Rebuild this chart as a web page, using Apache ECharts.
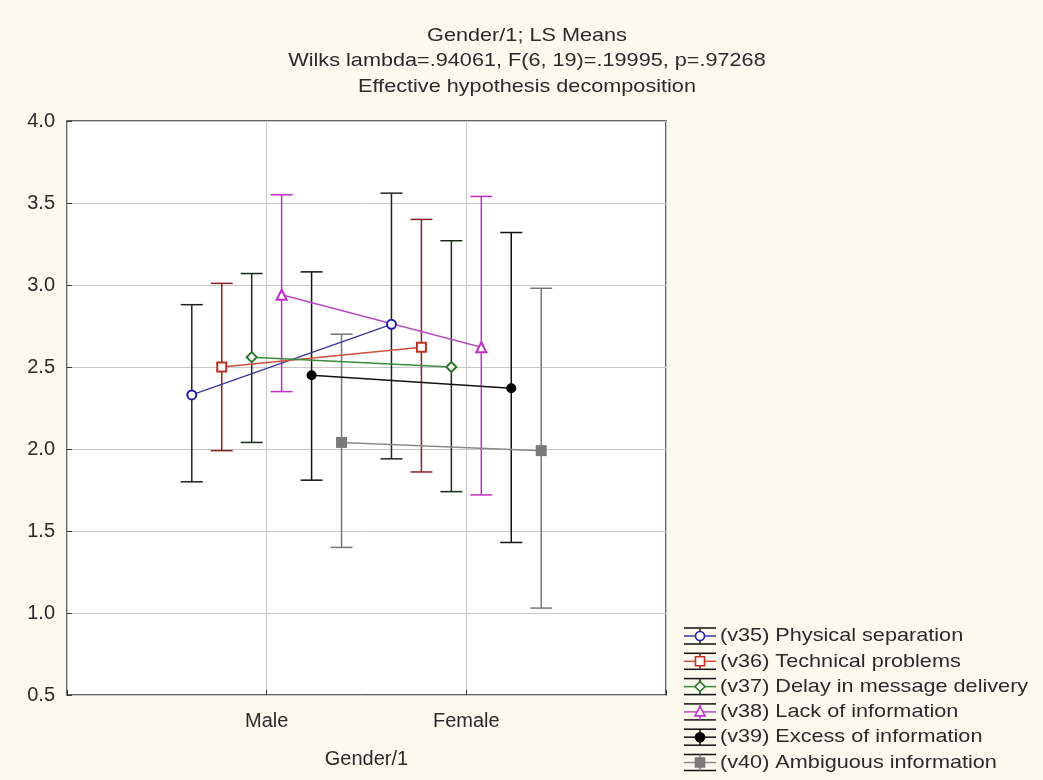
<!DOCTYPE html>
<html>
<head>
<meta charset="utf-8">
<script src="https://cdn.jsdelivr.net/npm/echarts@6/dist/echarts.min.js"></script>
<style>
  html, body { margin: 0; padding: 0; background: #fcf9ef; }
  #chart { width: 1043px; height: 780px; }
</style>
</head>
<body>
<div id="chart"></div>
<script>
// LS means with confidence intervals, by gender
const groups = ['Male', 'Female'];
const titleLines = [
  'Gender/1; LS Means',
  'Wilks lambda=.94061, F(6, 19)=.19995, p=.97268',
  'Effective hypothesis decomposition'
];
const seriesNames = [
  '(v35) Physical separation',
  '(v36) Technical problems',
  '(v37) Delay in message delivery',
  '(v38) Lack of information',
  '(v39) Excess of information',
  '(v40) Ambiguous information'
];
const means = [
  [2.33, 2.76],
  [2.50, 2.62],
  [2.56, 2.50],
  [2.94, 2.62],
  [2.45, 2.37],
  [2.04, 1.99]
];
const lower = [
  [1.80, 1.94],
  [1.99, 1.86],
  [2.04, 1.74],
  [2.35, 1.72],
  [1.81, 1.43],
  [1.40, 1.03]
];
const upper = [
  [2.88, 3.56],
  [3.01, 3.40],
  [3.07, 3.27],
  [3.55, 3.54],
  [3.08, 3.32],
  [2.70, 2.98]
];

// styling per variable
const lineColors = ['#3a3a9a', '#d0503c', '#3c8a3c', '#b84cc0', '#111111', '#8a8a8a'];
const markColors = ['#1e1ea8', '#c03020', '#2a7a2a', '#c030c8', '#000000', '#7a7a7a'];
const barColors  = ['#222222', '#8a2020', '#1c2a1c', '#c030c8', '#111111', '#777777'];
const symbols = ['emptyCircle', 'emptyRect', 'emptyDiamond', 'emptyTriangle', 'circle', 'rect'];
const symbolSizes = [9, 9, 10, 10, 10, 11];

const FONT = '"Liberation Sans", Arial, sans-serif';
const TXT = '#2a2a2a';
const WIDE = 1.14;   // horizontal stretch of the graphic texts
const step = 0.15;
const xPos = (gi, si) => gi + 1 + (si - 2.5) * step;

const series = [];
seriesNames.forEach((name, si) => {
  series.push({
    type: 'custom',
    name: name + ' ci',
    silent: true,
    z: 2,
    data: groups.map((g, gi) => [xPos(gi, si), lower[si][gi], upper[si][gi]]),
    renderItem: function (params, api) {
      const x = api.value(0);
      const lo = api.coord([x, api.value(1)]);
      const hi = api.coord([x, api.value(2)]);
      const hw = 11;
      const st = { stroke: barColors[si], lineWidth: 1.5 };
      return {
        type: 'group',
        children: [
          { type: 'line', shape: { x1: lo[0], y1: lo[1], x2: hi[0], y2: hi[1] }, style: st },
          { type: 'line', shape: { x1: lo[0] - hw, y1: lo[1], x2: lo[0] + hw, y2: lo[1] }, style: st },
          { type: 'line', shape: { x1: hi[0] - hw, y1: hi[1], x2: hi[0] + hw, y2: hi[1] }, style: st }
        ]
      };
    }
  });
  series.push({
    type: 'line',
    name: name,
    z: 3,
    data: groups.map((g, gi) => [xPos(gi, si), means[si][gi]]),
    symbol: symbols[si],
    symbolSize: symbolSizes[si],
    lineStyle: { color: lineColors[si], width: 1.5 },
    itemStyle: { color: markColors[si], borderWidth: 1.6 }
  });
});

const graphics = [];

// three-line heading
titleLines.forEach((t, i) => {
  graphics.push({
    type: 'text', x: 527, y: 35.5 + i * 25.5, scaleX: WIDE,
    style: { text: t, font: '19px ' + FONT, fill: TXT, textAlign: 'center', textVerticalAlign: 'middle' }
  });
});

// legend drawn as error-bar glyphs next to each label
const lgX = 684, lgY0 = 636, lgDy = 25.3;
seriesNames.forEach((name, si) => {
  const y = lgY0 + si * lgDy;
  const st = { stroke: '#111', lineWidth: 1.5 };
  graphics.push(
    { type: 'line', shape: { x1: lgX, y1: y - 8, x2: lgX + 32, y2: y - 8 }, style: st },
    { type: 'line', shape: { x1: lgX, y1: y + 8, x2: lgX + 32, y2: y + 8 }, style: st },
    { type: 'line', shape: { x1: lgX + 16, y1: y - 8, x2: lgX + 16, y2: y + 8 }, style: { stroke: barColors[si], lineWidth: 1.5 } },
    { type: 'line', shape: { x1: lgX, y1: y, x2: lgX + 32, y2: y }, style: { stroke: lineColors[si], lineWidth: 1.5 } }
  );
  const mc = markColors[si];
  const open = symbols[si].indexOf('empty') === 0;
  const ms = { fill: open ? '#fff' : mc, stroke: mc, lineWidth: 1.6 };
  const cx = lgX + 16;
  if (si === 0 || si === 4) {
    graphics.push({ type: 'circle', shape: { cx: cx, cy: y, r: 4.5 }, style: ms });
  } else if (si === 1 || si === 5) {
    graphics.push({ type: 'rect', shape: { x: cx - 4.5, y: y - 4.5, width: 9, height: 9 }, style: ms });
  } else if (si === 2) {
    graphics.push({ type: 'polygon', shape: { points: [[cx, y - 5], [cx + 5, y], [cx, y + 5], [cx - 5, y]] }, style: ms });
  } else {
    graphics.push({ type: 'polygon', shape: { points: [[cx, y - 5.5], [cx + 5, y + 4], [cx - 5, y + 4]] }, style: ms });
  }
  graphics.push({
    type: 'text', x: lgX + 36, y: y, scaleX: WIDE,
    style: { text: name, font: '19px ' + FONT, fill: TXT, textVerticalAlign: 'middle' }
  });
});

const chart = echarts.init(document.getElementById('chart'));
chart.setOption({
  backgroundColor: '#fcf9ef',
  animation: false,
  grid: { left: 67, top: 121, width: 599, height: 574, show: true, backgroundColor: '#ffffff', borderColor: '#333333', borderWidth: 1.5 },
  xAxis: {
    type: 'value', min: 0, max: 3, interval: 1,
    name: 'Gender/1', nameLocation: 'middle', nameGap: 54,
    nameTextStyle: { fontFamily: FONT, fontSize: 20, color: TXT },
    axisLine: { show: false },
    axisTick: { inside: true, length: 5, lineStyle: { color: '#333' } },
    axisLabel: {
      margin: 16, fontFamily: FONT, fontSize: 20, color: TXT,
      formatter: v => (v >= 1 && v <= groups.length) ? groups[v - 1] : ''
    },
    splitLine: { lineStyle: { color: '#c8c8c8', width: 1 } }
  },
  yAxis: {
    type: 'value', min: 0.5, max: 4, interval: 0.5,
    axisLine: { show: false },
    axisTick: { inside: true, length: 5, lineStyle: { color: '#333' } },
    axisLabel: { margin: 12, fontFamily: FONT, fontSize: 20, color: TXT, formatter: v => v.toFixed(1) },
    splitLine: { lineStyle: { color: '#c8c8c8', width: 1 } }
  },
  series: series,
  graphic: graphics
});
</script>
</body>
</html>
